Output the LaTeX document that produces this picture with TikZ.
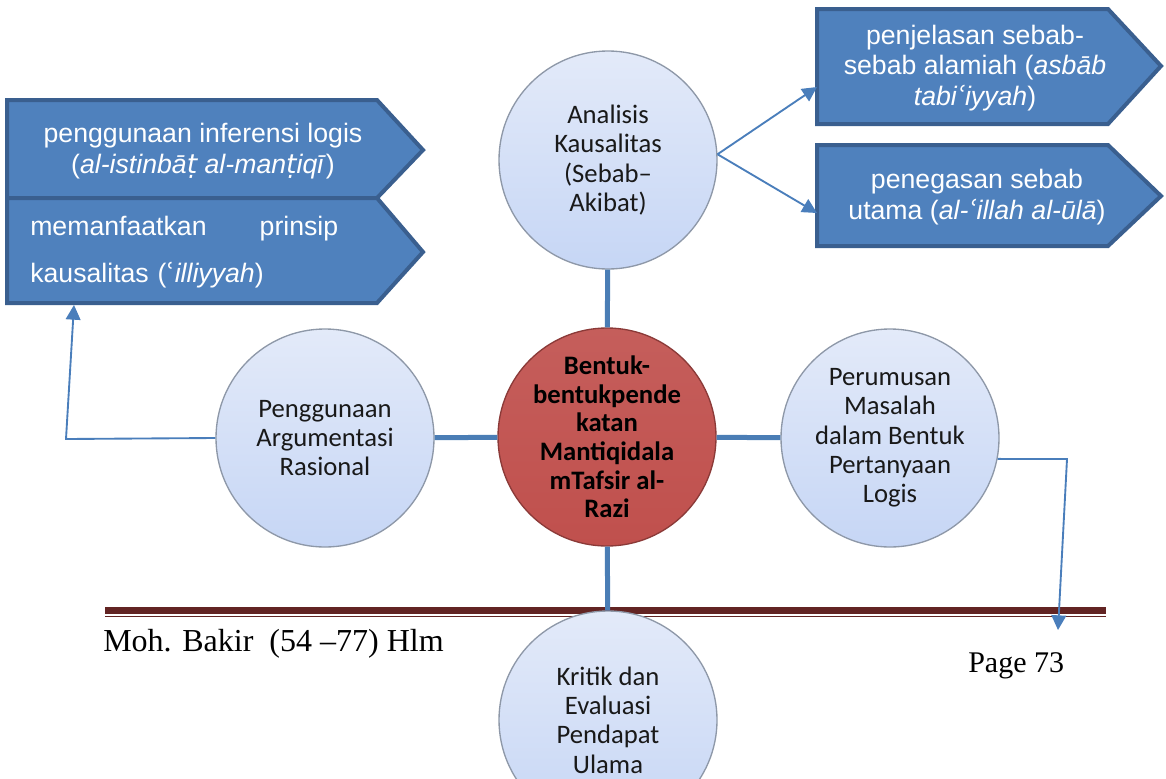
\documentclass[tikz,border=0pt]{standalone}
\usepackage{fontspec}
\setmainfont{Liberation Serif}
\newfontfamily\calibri{Carlito}
\newfontfamily\arial{Liberation Sans}
\newfontfamily\dejavu{DejaVu Sans}
\usetikzlibrary{arrows.meta}

% colours
\definecolor{spokeblue}{HTML}{4A7DB5}
\definecolor{linkblue}{HTML}{4A7EBB}
\definecolor{tagfill}{HTML}{4F81BD}
\definecolor{tagline}{HTML}{3A5F8F}
\definecolor{bubbletop}{HTML}{E3EAF9}
\definecolor{bubblebot}{HTML}{C6D6F5}
\definecolor{bubbleline}{HTML}{8E98A8}
\definecolor{hubred}{HTML}{C0504D}
\definecolor{hubline}{HTML}{8B3A38}
\definecolor{footrule}{HTML}{622423}

% transliteration marks
\newcommand{\ayn}{{\dejavu\char"02BF}}
\newcommand{\tdot}{{\dejavu\char"1E6D}}

\tikzset{
  bubble/.style={circle, draw=bubbleline, line width=1pt, top color=bubbletop,
    bottom color=bubblebot, minimum size=163.5pt, inner sep=0pt, align=center,
    font=\calibri\fontsize{20}{22}\selectfont, text=black!90},
  hub/.style={bubble, top color=hubred!92, bottom color=hubred, draw=hubline,
    inner sep=-4pt, font=\calibri\bfseries\fontsize{20}{21.5}\selectfont, text=black},
  spoke/.style={draw=spokeblue, line width=3.75pt},
  link/.style={draw=linkblue, line width=1.4pt, -{Triangle[length=11pt,width=11pt]}},
  tag/.style={fill=tagfill, draw=tagline, line width=3pt, line join=miter},
  tagtext/.style={text=white, font=\arial\fontsize{20}{23}\selectfont, align=center, inner sep=0pt},
  footer/.style={font=\fontsize{24}{28}\selectfont, inner sep=0pt, anchor=base west}
}

\begin{document}
\begin{tikzpicture}[x=0.75pt, y=-0.75pt]
\useasboundingbox (0,0) rectangle (1166,778);

% page footer rules
\draw[footrule, line width=5.25pt] (105,610.5) -- (1106,610.5);
\draw[footrule, line width=1.2pt] (105,616.5) -- (1106,616.5);

% circles
\node[hub] (mantiq) at (607,437) {Bentuk-\\bentukpende\\katan\\Mantiqidala\\mTafsir al-\\Razi};
\node[bubble] (kausal) at (608,160) {Analisis\\Kausalitas\\(Sebab–\\Akibat)};
\node[bubble] (argumen) at (325,438) {Penggunaan\\Argumentasi\\Rasional};
\node[bubble] (rumus) at (890,438) {Perumusan\\Masalah\\dalam Bentuk\\Pertanyaan\\Logis};
\node[bubble] (kritik) at (608,720) {Kritik dan\\Evaluasi\\Pendapat\\Ulama};

% spokes
\foreach \n in {kausal,argumen,rumus,kritik}
\draw[spoke] (mantiq) -- (\n);

% arrow boxes left
\draw[tag] (7,100) -- (377,100) -- (423,150) -- (377,198) -- (7,198) -- cycle;
\draw[tag] (7,198) -- (377,198) -- (423,252) -- (377,303) -- (7,303) -- cycle;
\node[tagtext] (inferensi) at (203,151) {penggunaan inferensi logis\\(\textit{al-istinbā\tdot{} al-man\tdot iqī})};
\node[tagtext, text width=231pt, align=left, anchor=west] (illiyyah) at (30,252)
  {memanfaatkan\hfill prinsip\\[12pt]kausalitas (\ayn\textit{illiyyah})};

% arrow boxes right
\draw[tag] (817,9) -- (1108,9) -- (1161,66) -- (1108,124) -- (817,124) -- cycle;
\draw[tag] (817,145) -- (1108,145) -- (1161,196) -- (1108,246) -- (817,246) -- cycle;
\node[tagtext] (alamiah) at (975,68) {penjelasan sebab-\\sebab alamiah (\textit{asbāb}\\\textit{tabi\ayn iyyah})};
\node[tagtext] (utama) at (977,197) {penegasan sebab\\utama (\textit{al-\ayn illah al-ūlā})};

% arrows
\coordinate (alamiahin) at (817,87);
\coordinate (utamain) at (817,213);
\draw[link] (kausal.3) -- (alamiahin);
\draw[link] (kausal.3) -- (utamain);

\coordinate (bendL) at (66,439);
\coordinate (illiyyahin) at (74,305);
\draw[link] (argumen.west) -- (bendL) -- (illiyyahin);

\coordinate (bendR) at (1067,459);
\coordinate (pageend) at (1058,630);
\draw[link] (rumus.-11) -- (bendR) -- (pageend);

% footer text
\node[footer] (author) at (103,651) {Moh. Bakir\ \ (54 –77) Hlm};
\node[footer, font=\fontsize{22.5}{26}\selectfont] (page) at (968,672) {Page 73};

\end{tikzpicture}
\end{document}
